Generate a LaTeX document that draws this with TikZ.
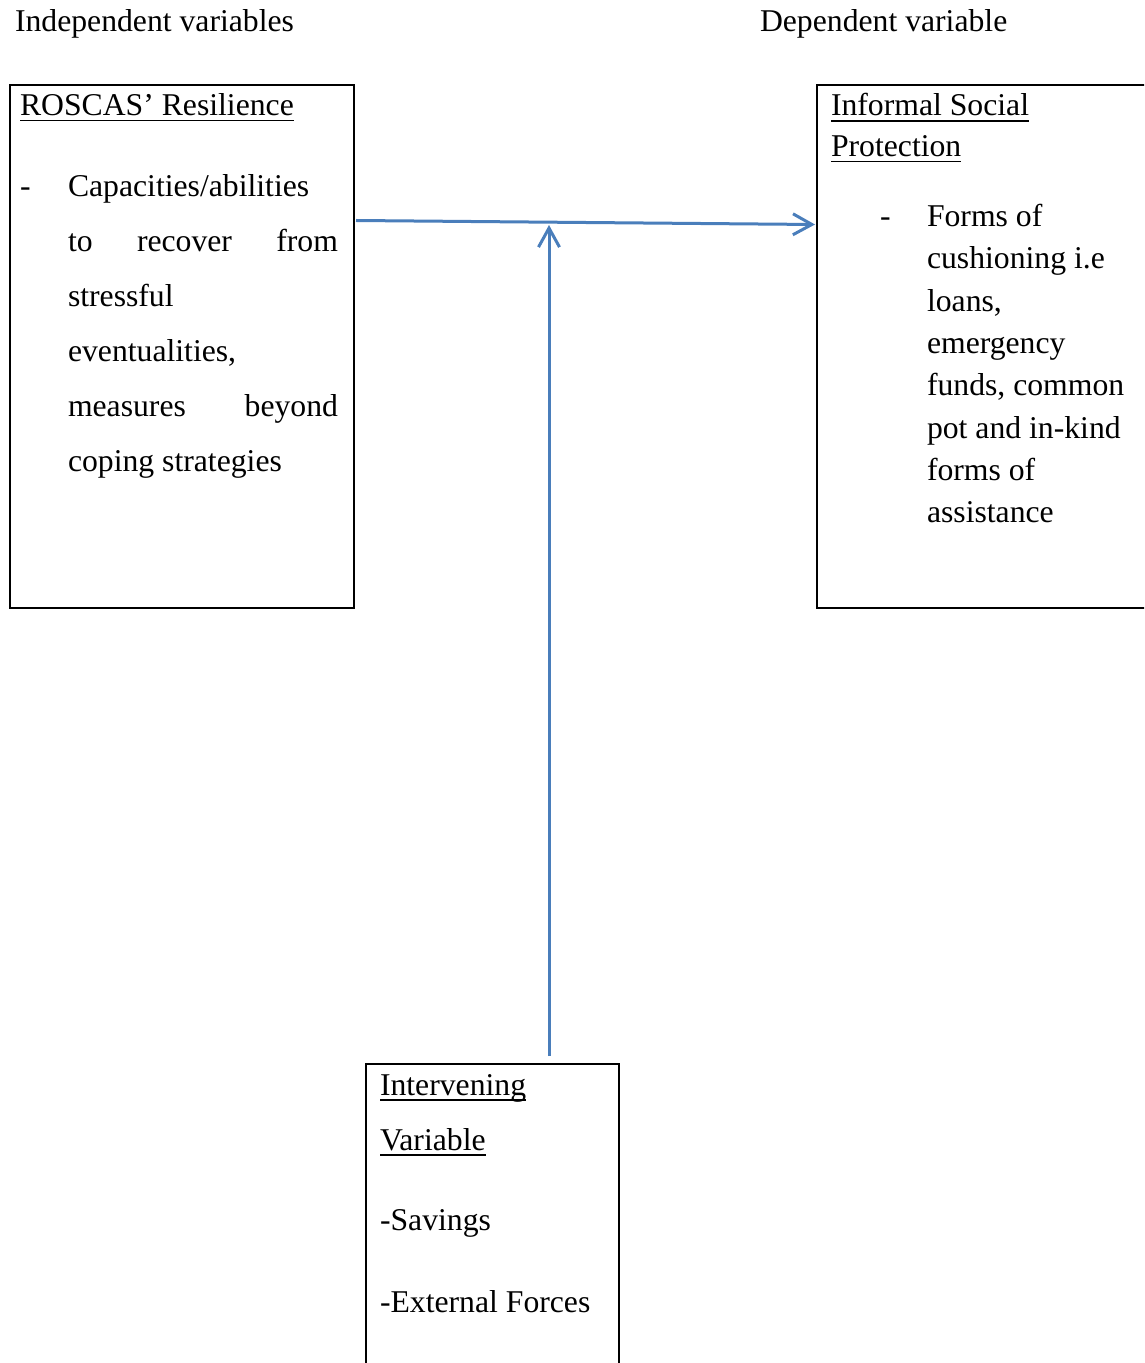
\documentclass[tikz,border=0pt]{standalone}
\usepackage{fontspec}
\setmainfont{Liberation Serif}
\usetikzlibrary{arrows.meta}
\definecolor{wordblue}{RGB}{74,126,187}
\newcommand\myul[1]{\setbox0\hbox{#1}\rlap{\rule[-3pt]{\wd0}{0.9pt}}\box0}
\tikzset{
  txt/.style={anchor=base west, inner sep=0pt, outer sep=0pt, font=\fontsize{15.85pt}{19pt}\selectfont},
  txtr/.style={txt, anchor=base east},
  box/.style={draw=black, line width=1pt, inner sep=0pt, outer sep=0pt},
  conn/.style={draw=wordblue, line width=1.5pt, -{Straight Barb[length=9.5pt,width=10.5pt,line width=1.5pt]}}
}
\begin{document}
\begin{tikzpicture}[x=0.5pt,y=-0.5pt]
\useasboundingbox (0,0) rectangle (1144,1363);
\clip (0,0) rectangle (1144,1363);
\fill[white] (0,0) rectangle (1144,1363);
% headings
\node[txt] (h1) at (15,32) {Independent variables};
\node[txt] (h2) at (760,32) {Dependent variable};
% boxes
\node[box, minimum width=172pt, minimum height=261.5pt] (L) at (182,346.5) {};
\node[box, minimum width=180pt, minimum height=261.5pt] (R) at (997,346.5) {};
\node[box, minimum width=126.5pt, minimum height=200pt] (B) at (492.5,1264) {};
% left box text
\node[txt] (l0) at (20,115.5) {\myul{ROSCAS’ Resilience}};
\node[txt] (l1d) at (20,196.7) {-};
\node[txt] (l1) at (68,196.7) {Capacities/abilities};
\node[txt] (l2a) at (68,251.7) {to};
\node[txt] (l2b) at (137,251.7) {recover};
\node[txtr] (l2c) at (338,251.7) {from};
\node[txt] (l3) at (68,306.7) {stressful};
\node[txt] (l4) at (68,361.7) {eventualities,};
\node[txt] (l5a) at (68,416.7) {measures};
\node[txtr] (l5b) at (338,416.7) {beyond};
\node[txt] (l6) at (68,471.7) {coping strategies};
% right box text
\node[txt] (r0) at (831,115.7) {\myul{Informal Social}};
\node[txt] (r1) at (831,156.5) {\myul{Protection}};
\node[txt] (r2d) at (880,226.7) {-};
\node[txt] (r2) at (927,226.7) {Forms of};
\node[txt] (r3) at (927,269) {cushioning i.e};
\node[txt] (r4) at (927,311.3) {loans,};
\node[txt] (r5) at (927,353.6) {emergency};
\node[txt] (r6) at (927,395.9) {funds, common};
\node[txt] (r7) at (927,438.2) {pot and in-kind};
\node[txt] (r8) at (927,480.5) {forms of};
\node[txt] (r9) at (927,522.8) {assistance};
% bottom box text
\node[txt] (b0) at (380,1095) {\myul{Intervening}};
\node[txt] (b1) at (380,1150) {\myul{Variable}};
\node[txt] (b2) at (380,1230.7) {-Savings};
\node[txt] (b3) at (380,1312.7) {-External Forces};
% connectors
\coordinate (a1) at (356,220.5);
\coordinate (a2) at (815,224.5);
\coordinate (v1) at (549,1056);
\coordinate (v2) at (549,225);
\draw[conn] (a1) -- (a2);
\draw[conn] (v1) -- (v2);
\end{tikzpicture}
\end{document}
